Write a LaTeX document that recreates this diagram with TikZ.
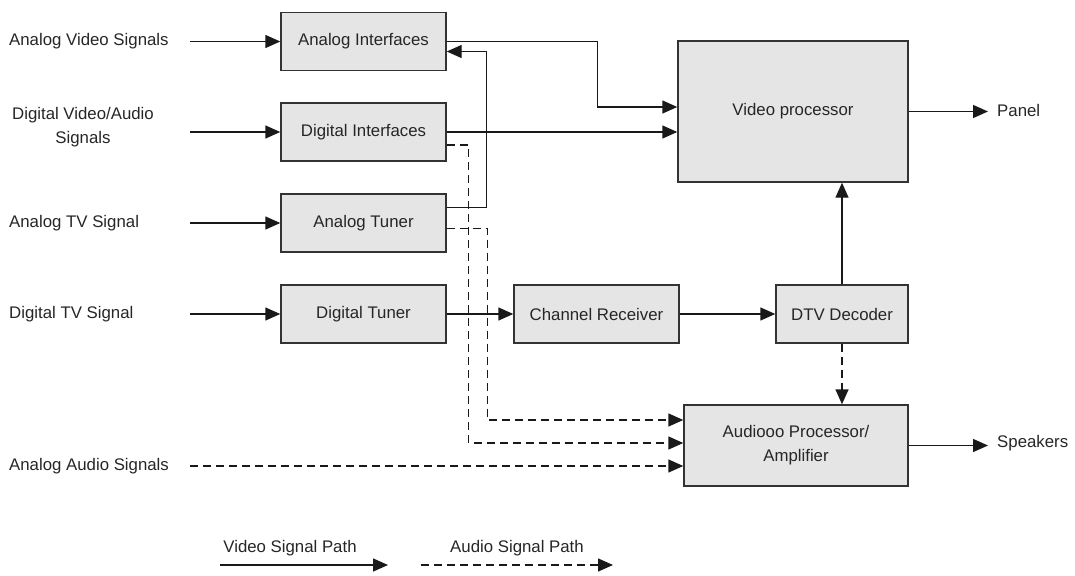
\documentclass[tikz,border=0pt]{standalone}
\usepackage{fontspec}
\setmainfont{Liberation Sans}
\usetikzlibrary{arrows.meta,calc}
\begin{document}
\begin{tikzpicture}[x=1pt,y=-1pt,
  every node/.style={font=\fontsize{16.8}{24}\selectfont, text=black!85},
  blk/.style={draw=black!80, line width=1.4pt, fill=gray!20, inner sep=0pt},
  lbl/.style={inner sep=0pt},
  sig/.style={line width=1.4pt, draw=black!90, -{Triangle[length=15pt,width=13pt]}},
  vid/.style={sig},
  aud/.style={sig, dash pattern=on 8pt off 5pt},
]
\useasboundingbox (0,0) rectangle (1075,575);

% processing blocks
\node[blk, minimum width=165pt, minimum height=58pt] (ai)  at (363.5,41.5) {Analog Interfaces};
\node[blk, minimum width=165pt, minimum height=58pt] (di)  at (363.5,132)  {Digital Interfaces};
\node[blk, minimum width=165pt, minimum height=58pt] (at)  at (363.5,223)  {Analog Tuner};
\node[blk, minimum width=165pt, minimum height=58pt] (dt)  at (363.5,314)  {Digital Tuner};
\node[blk, minimum width=165pt, minimum height=58pt] (cr)  at (596.5,314)  {Channel Receiver};
\node[blk, minimum width=132pt, minimum height=58pt] (dtv) at (842,314)    {DTV Decoder};
\node[blk, minimum width=230pt, minimum height=141pt] (vp) at (793,111.5)  {Video processor};
\node[blk, minimum width=224pt, minimum height=81pt, align=center] (ap) at (796,445.5)
  {Audiooo Processor/\\Amplifier};

% input labels
\node[lbl, anchor=west] (avs) at (9,41.5) {Analog Video Signals};
\node[lbl, align=center] (dvs) at (83,127.5) {Digital Video/Audio\\Signals};
\node[lbl, anchor=west] (ats) at (9,223) {Analog TV Signal};
\node[lbl, anchor=west] (dts) at (9,314) {Digital TV Signal};
\node[lbl, anchor=west] (aas) at (9,466) {Analog Audio Signals};

% output labels
\node[lbl, anchor=west] (panel) at (997,110) {Panel};
\node[lbl, anchor=west] (spk)   at (997,443) {Speakers};

% line start points
\coordinate (in1) at (190,41.5);
\coordinate (in2) at (190,132);
\coordinate (in3) at (190,223);
\coordinate (in4) at (190,314);
\coordinate (in5) at (190,466);

% inputs
\draw[vid] (in1) -- (ai.west);
\draw[vid] (in2) -- (di.west);
\draw[vid] (in3) -- (at.west);
\draw[vid] (in4) -- (dt.west);
\draw[aud] (in5) -- (in5 -| ap.west);

% video paths
\draw[vid] (ai.east) -- ++(151,0) |- ($(vp.west)+(0,-4.5)$);
\draw[vid] (di.east) -- (di.east -| vp.west);
\draw[vid] ($(at.east)+(0,-15.5)$) -- ++(40,0) |- ($(ai.east)+(0,10)$);
\draw[vid] (dt.east) -- (cr.west);
\draw[vid] (cr.east) -- (dtv.west);
\draw[vid] (dtv.north) -- (dtv.north |- vp.south);
\draw[vid, shorten >=9pt] (vp.east) -- (vp.east -| panel.west);
\draw[vid, shorten >=9pt] (ap.east) -- (ap.east -| spk.west);

% audio paths
\draw[aud] ($(di.east)+(0,13)$) -- ++(22,0) |- ($(ap.west)+(0,-2.5)$);
\draw[aud] ($(at.east)+(0,5.7)$) -- ++(41,0) |- ($(ap.west)+(0,-25.5)$);
\draw[aud] (dtv.south) -- (dtv.south |- ap.north);

% legend
\node[lbl] (lv) at (290,548) {Video Signal Path};
\node[lbl] (la) at (517,548) {Audio Signal Path};
\coordinate (lv1) at (220,565);
\coordinate (lv2) at (388,565);
\coordinate (la1) at (421,565);
\coordinate (la2) at (613,565);
\draw[vid] (lv1) -- (lv2);
\draw[aud] (la1) -- (la2);
\end{tikzpicture}
\end{document}
